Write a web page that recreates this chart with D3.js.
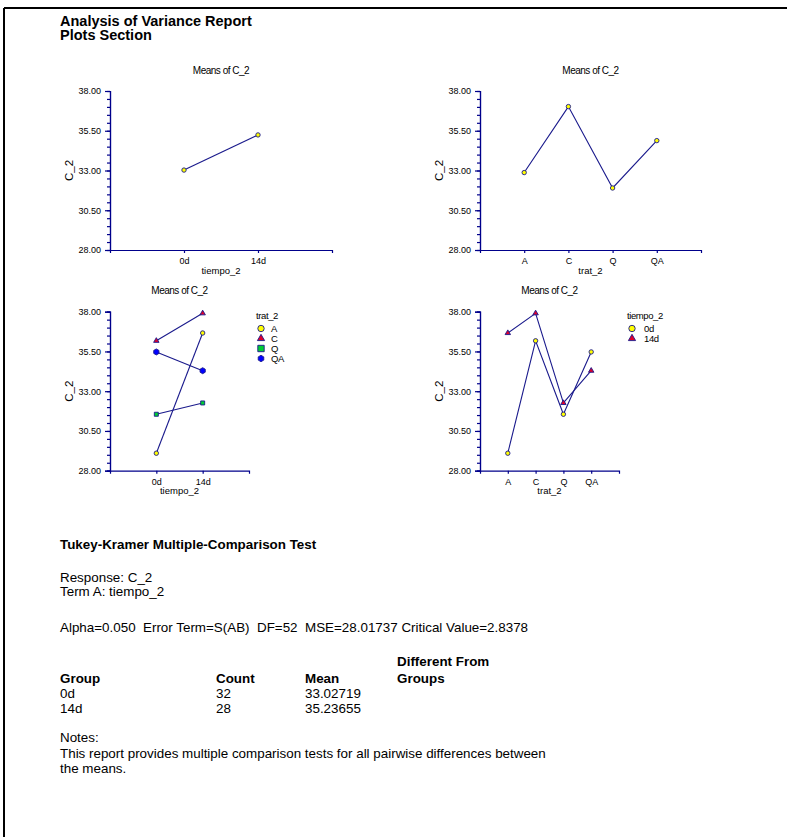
<!DOCTYPE html>
<html><head><meta charset="utf-8">
<script src="https://cdn.jsdelivr.net/npm/d3@7"></script>
<style>
html,body{margin:0;padding:0;background:#fff;}
svg text{font-family:Arial,"Liberation Sans",sans-serif;fill:#000;white-space:pre;}
</style></head>
<body>
<svg id="page" width="787" height="837"></svg>
<script>
// ---------- data ----------
const tiempoCats = ["0d", "14d"];
const tratCats = ["A", "C", "Q", "QA"];
const meansByTiempo = [33.02719, 35.23655];
const meansByTrat = [32.87, 37.02, 31.90, 34.88];
const seriesA = [29.10, 36.66];   // by tiempo (0d, 14d)
const seriesC = [36.17, 37.90];
const seriesQ = [31.55, 32.26];
const seriesQA = [35.47, 34.29];
const yTicks = [28.00, 30.50, 33.00, 35.50, 38.00];
const yDomain = [28, 38];

const tableGroups = ["0d", "14d"];
const tableCounts = [32, 28];
const tableMeans = ["33.02719", "35.23655"];

// ---------- styles ----------
const NAVY = "#1a1a8c";
const AXIS = "#00008b";
const markerStyle = {
  A:  {shape: "circle",   fill: "#ffff00"},
  C:  {shape: "triangle", fill: "#e0002a"},
  Q:  {shape: "square",   fill: "#00cc33"},
  QA: {shape: "hexagon",  fill: "#0000ff"},
  "0d": {shape: "circle", fill: "#ffff00"},
  "14d": {shape: "triangle", fill: "#e0002a"}
};

const svg = d3.select("#page");

// page frame
svg.append("line").attr("x1", 4).attr("x2", 787).attr("y1", 8).attr("y2", 8)
  .attr("stroke", "#000").attr("stroke-width", 2);
svg.append("line").attr("x1", 4).attr("x2", 4).attr("y1", 8).attr("y2", 837)
  .attr("stroke", "#000").attr("stroke-width", 2);

svg.append("text").attr("x", 60).attr("y", 25.5).attr("font-size", 14.5).attr("font-weight", "bold")
  .text("Analysis of Variance Report");
svg.append("text").attr("x", 60).attr("y", 40).attr("font-size", 14.5).attr("font-weight", "bold")
  .text("Plots Section");

function symbolPath(shape, s) {
  const map = {circle: d3.symbolCircle, triangle: d3.symbolTriangle, square: d3.symbolSquare};
  if (shape === "hexagon") {
    const pts = d3.range(6).map(i => {
      const a = Math.PI / 6 + i * Math.PI / 3;
      return [Math.cos(a) * s, Math.sin(a) * s];
    });
    return "M" + pts.map(p => p.join(",")).join("L") + "Z";
  }
  const area = shape === "circle" ? Math.PI * s * s : shape === "square" ? (2 * s) * (2 * s) : (2 * s) * (2 * s) * 0.55;
  return d3.symbol().type(map[shape]).size(area)();
}

function drawMarker(g, x, y, key, s) {
  const st = markerStyle[key];
  g.append("path").attr("d", symbolPath(st.shape, s))
    .attr("transform", `translate(${x},${y})`)
    .attr("fill", st.fill).attr("stroke", NAVY).attr("stroke-width", 0.9);
}

function panel(cfg) {
  const g = svg.append("g");
  const x = d3.scalePoint().domain(cfg.cats).range([cfg.x0, cfg.x1]).padding(1);
  const y = d3.scaleLinear().domain(yDomain).range([cfg.y1, cfg.y0]);

  // title
  g.append("text").attr("x", (cfg.x0 + cfg.x1) / 2).attr("y", cfg.y0 - 17.5)
    .attr("text-anchor", "middle").attr("font-size", 10).attr("letter-spacing", -0.5)
    .text("Means of C_2");

  // y axis
  const minor = d3.range(28, 38.001, 0.5);
  const ya = g.append("g").attr("transform", `translate(${cfg.x0},0)`);
  ya.call(d3.axisLeft(y).tickValues(minor).tickSize(3).tickFormat(""));
  ya.append("g").call(d3.axisLeft(y).tickValues(yTicks).tickSize(5).tickFormat(d3.format(".2f")));
  ya.selectAll("path,line").attr("stroke", AXIS).attr("stroke-width", 1.2);
  ya.selectAll("text").attr("font-size", 9).attr("fill", "#000").attr("dx", -1)
    .style("font-family", "Arial, 'Liberation Sans', sans-serif");

  // x axis
  const xa = g.append("g").attr("transform", `translate(0,${cfg.y1})`);
  xa.call(d3.axisBottom(x).tickSize(3).tickSizeOuter(3));
  xa.selectAll("path,line").attr("stroke", AXIS).attr("stroke-width", 1.2);
  xa.selectAll("text").attr("font-size", 9).attr("fill", "#000").attr("dy", "0.9em")
    .style("font-family", "Arial, 'Liberation Sans', sans-serif");

  // axis labels
  g.append("text").attr("x", (cfg.x0 + cfg.x1) / 2).attr("y", cfg.y1 + 23.5)
    .attr("text-anchor", "middle").attr("font-size", 9.5).text(cfg.xLabel);
  g.append("text").attr("transform", `translate(${cfg.x0 - 37.5},${(cfg.y0 + cfg.y1) / 2}) rotate(-90)`)
    .attr("text-anchor", "middle").attr("font-size", 11.5).text("C_2");

  // series
  cfg.series.forEach(s => {
    const line = d3.line().x((d, i) => x(cfg.cats[i])).y(d => y(d));
    g.append("path").attr("d", line(s.values)).attr("fill", "none")
      .attr("stroke", NAVY).attr("stroke-width", 1.1);
  });
  cfg.series.forEach(s => {
    s.values.forEach((v, i) => drawMarker(g, x(cfg.cats[i]), y(v), s.key, s.size));
  });

  // legend
  if (cfg.legend) {
    const lx = cfg.legend.x, ly = cfg.legend.y;
    g.append("text").attr("x", lx).attr("y", ly + 3).attr("font-size", 9.5)
      .attr("letter-spacing", -0.4).text(cfg.legend.title);
    cfg.legend.keys.forEach((k, i) => {
      const yy = ly + 12.5 + i * 10;
      drawMarker(g, lx + 5, yy, k, 3.2);
      g.append("text").attr("x", lx + (cfg.legend.tx || 17)).attr("y", yy + 3.3)
        .attr("font-size", 9.5).attr("letter-spacing", -0.4).text(k);
    });
  }
}

panel({cats: tiempoCats, x0: 110, x1: 332, y0: 91, y1: 250, xLabel: "tiempo_2",
  series: [{key: "A", values: meansByTiempo, size: 2.2}]});

panel({cats: tratCats, x0: 480, x1: 701, y0: 91, y1: 250, xLabel: "trat_2",
  series: [{key: "A", values: meansByTrat, size: 2.2}]});

panel({cats: tiempoCats, x0: 110, x1: 249, y0: 311.7, y1: 470.7, xLabel: "tiempo_2",
  series: [
    {key: "A", values: seriesA, size: 2.2},
    {key: "C", values: seriesC, size: 2.4},
    {key: "Q", values: seriesQ, size: 2.0},
    {key: "QA", values: seriesQA, size: 3.0}
  ],
  legend: {x: 256, y: 316, title: "trat_2", keys: tratCats, tx: 15}});

panel({cats: tratCats, x0: 480, x1: 619, y0: 311.7, y1: 470.7, xLabel: "trat_2",
  series: [
    {key: "0d", values: [seriesA[0], seriesC[0], seriesQ[0], seriesQA[0]], size: 2.2},
    {key: "14d", values: [seriesA[1], seriesC[1], seriesQ[1], seriesQA[1]], size: 2.4}
  ],
  legend: {x: 627, y: 316, title: "tiempo_2", keys: tiempoCats, tx: 17}});

// ---------- text section ----------
const FS = 13.4;
function txt(x, y, s, bold) {
  svg.append("text").attr("x", x).attr("y", y).attr("font-size", FS)
    .attr("xml:space", "preserve")
    .attr("font-weight", bold ? "bold" : "normal").text(s);
}
txt(60, 548.5, "Tukey-Kramer Multiple-Comparison Test", true);
txt(60, 582, "Response: C_2");
txt(60, 595.5, "Term A: tiempo_2");
txt(60, 632, "Alpha=0.050  Error Term=S(AB)  DF=52  MSE=28.01737 Critical Value=2.8378");

const colX = [60, 216, 305, 397];
txt(colX[3], 665.5, "Different From", true);
txt(colX[0], 682.5, "Group", true);
txt(colX[1], 682.5, "Count", true);
txt(colX[2], 682.5, "Mean", true);
txt(colX[3], 682.5, "Groups", true);
tableGroups.forEach((gname, i) => {
  const yy = 697.5 + i * 15;
  txt(colX[0], yy, gname);
  txt(colX[1], yy, String(tableCounts[i]));
  txt(colX[2], yy, tableMeans[i]);
});
txt(60, 741.5, "Notes:");
txt(60, 757.5, "This report provides multiple comparison tests for all pairwise differences between");
txt(60, 772.5, "the means.");
</script>
</body></html>
